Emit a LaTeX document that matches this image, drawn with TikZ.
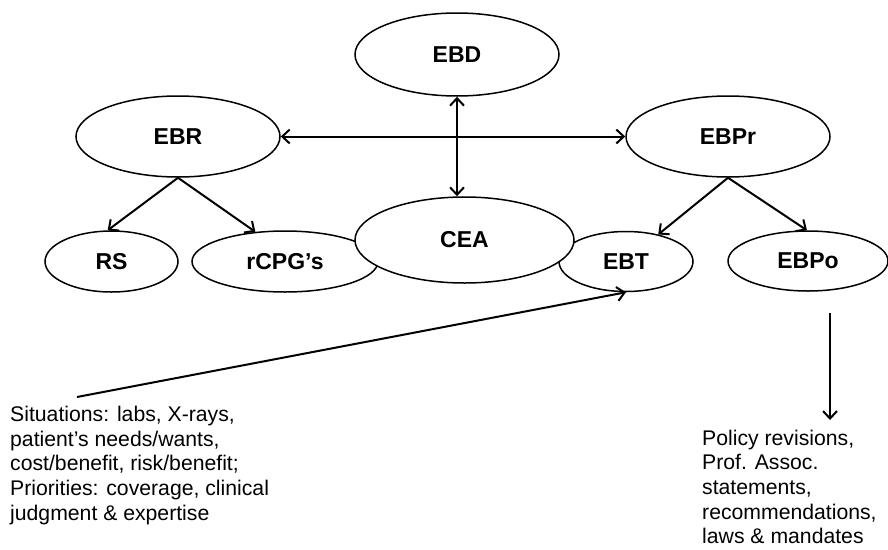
\documentclass[tikz,border=0pt]{standalone}
\usepackage{fontspec}
\setmainfont{Liberation Sans}
\usetikzlibrary{shapes.geometric,arrows.meta}
\begin{document}
\begin{tikzpicture}[x=1pt,y=-1pt,
  every node/.style={inner sep=0pt},
  oval/.style={ellipse, draw, fill=white, line width=1.5pt,
    font=\fontsize{23}{23}\selectfont\bfseries},
  link/.style={line width=2pt, -{Straight Barb[length=7.5pt,width=14pt]}},
  twoway/.style={line width=2pt, {Straight Barb[length=7.5pt,width=14pt]}-{Straight Barb[length=7.5pt,width=14pt]}},
  note/.style={align=left, font=\fontsize{21.2}{24.7}\selectfont}
]
\useasboundingbox (0,0) rectangle (888,549);

% upper level
\node[oval, minimum width=204, minimum height=83] (ebd)  at (457,54.5)  {EBD};
\node[oval, minimum width=204, minimum height=81] (ebr)  at (178,136.5) {EBR};
\node[oval, minimum width=204, minimum height=81] (ebpr) at (728,136.5) {EBPr};

% lower level (CEA last, so it lies over its neighbours)
\node[oval, minimum width=133, minimum height=61] (rs)   at (111.5,261.5) {RS};
\node[oval, minimum width=186, minimum height=61] (rcpg) at (285,261.5)   {rCPG’s};
\node[oval, minimum width=134, minimum height=60] (ebt)  at (626,261.5)   {EBT};
\node[oval, minimum width=160, minimum height=60] (ebpo) at (808,261)     {EBPo};
\node[oval, minimum width=219, minimum height=86] (cea)  at (464.5,240)   {CEA};

% notes
\node[note, anchor=north west] (sit) at (10,406)
  {Situations: labs, X-rays,\\patient’s needs/wants,\\cost/benefit, risk/benefit;\\Priorities: coverage, clinical\\judgment \& expertise};
\node[note, anchor=north west] (pol) at (702,429.5)
  {Policy revisions,\\Prof. Assoc.\\statements,\\recommendations,\\laws \& mandates};

\coordinate (sitend) at (77,397);
\coordinate (poltop) at (830,313);
\coordinate (polend) at (830,420);

% connectors
\draw[twoway] (ebr) -- (ebpr);
\draw[twoway] (ebd.south) -- (ebd.south |- cea.north);
\draw[link] (ebr.south) -- (rs.97);
\draw[link] (ebr.south) -- (rcpg.135);
\draw[link] (ebpr.south) -- (ebt.40);
\draw[link] (ebpr.south) -- (ebpo.92);
\draw[link] (sitend) -- (ebt.south);
\draw[link] (poltop) -- (polend);
\end{tikzpicture}
\end{document}
